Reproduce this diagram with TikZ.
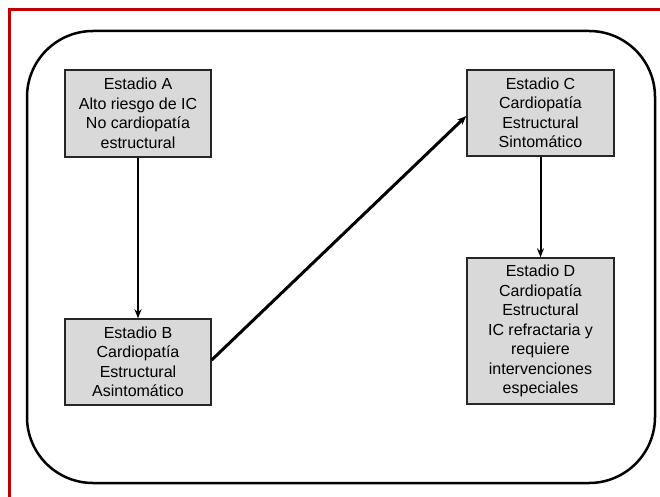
\documentclass[tikz,border=0pt]{standalone}
\usepackage{fontspec}
\setmainfont{Liberation Sans}
\usetikzlibrary{arrows.meta}
\definecolor{framered}{HTML}{C00000}
\definecolor{boxgray}{HTML}{D9D9D9}
\begin{document}
\begin{tikzpicture}[x=1pt,y=-1pt,
  stagebox/.style={draw=black!85, line width=1.4pt, fill=boxgray, align=center,
    font=\fontsize{16}{19.5}\selectfont, inner sep=0pt},
  flow/.style={line width=2pt, -{Stealth[length=9pt,width=7pt]}}]
  % canvas
  \path[use as bounding box] (0,0) rectangle (660,497);
  \fill[white] (0,0) rectangle (660,497);
  % red frame edges
  \draw[framered, line width=3pt] (660,10) -- (9,10) -- (9,497);
  % rounded outer container
  \draw[line width=2.5pt, rounded corners=66pt] (27,31) rectangle (655,483);
  % stages
  \node[stagebox, minimum width=146pt, minimum height=87pt] (A) at (138,113.5)
    {Estadio A\\Alto riesgo de IC\\No cardiopatía\\estructural};
  \node[stagebox, minimum width=146pt, minimum height=86pt] (B) at (138,362)
    {Estadio B\\Cardiopatía\\Estructural\\Asintomático};
  \node[stagebox, minimum width=147pt, minimum height=86pt] (C) at (540.5,113)
    {Estadio C\\Cardiopatía\\Estructural\\Sintomático};
  \node[stagebox, minimum width=147pt, minimum height=146pt] (D) at (540.5,331)
    {Estadio D\\Cardiopatía\\Estructural\\IC refractaria y\\requiere\\intervenciones\\especiales};
  % progression arrows
  \draw[flow] (A.south) -- (B.north);
  \draw[flow, line width=3pt] (B.east) ++(0,-2) -- ([yshift=-3pt]C.west);
  \draw[flow] (C.south) -- (D.north);
\end{tikzpicture}
\end{document}
